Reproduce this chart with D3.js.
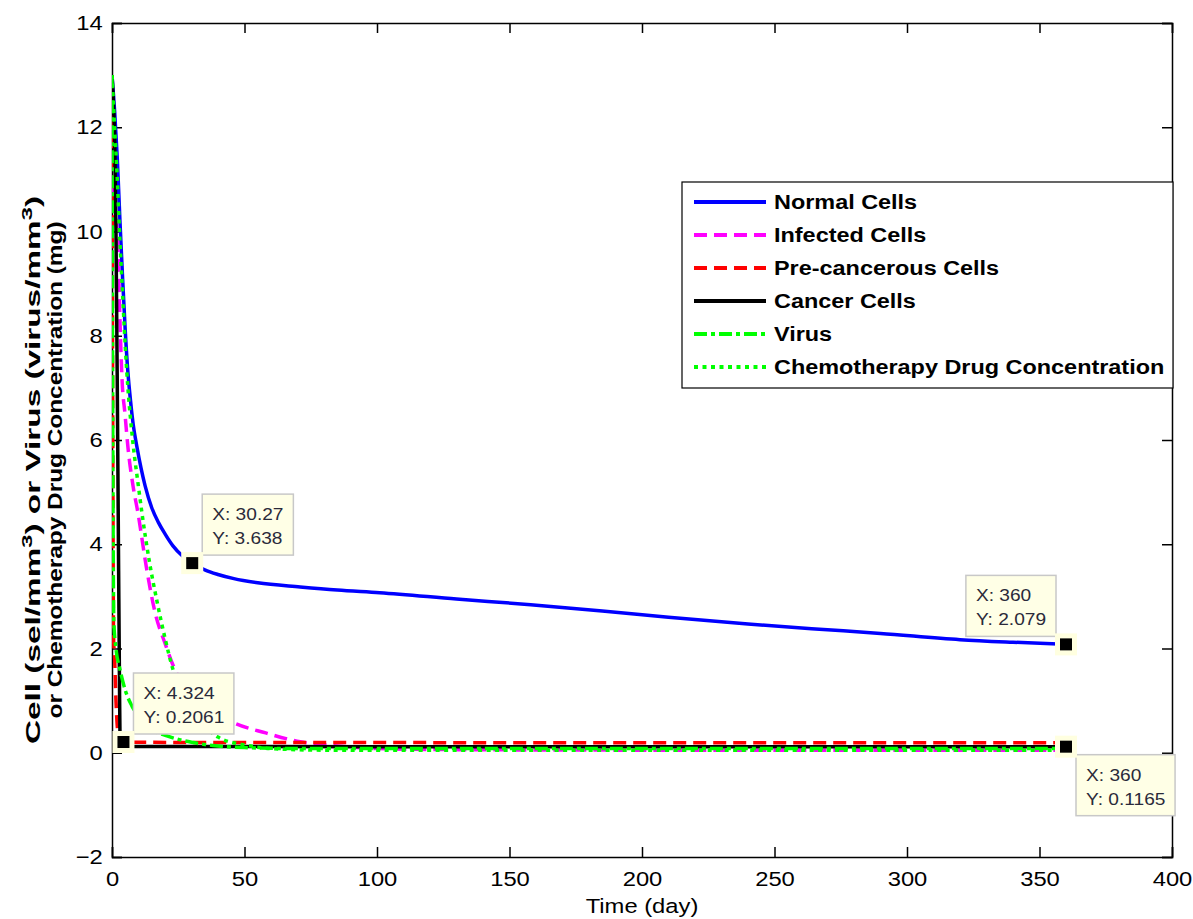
<!DOCTYPE html>
<html><head><meta charset="utf-8">
<script src="https://cdn.jsdelivr.net/npm/d3@7"></script>
<style>body{margin:0;background:#fff}svg{display:block}text{font-family:"Liberation Sans",Arial,sans-serif}</style>
</head><body>
<svg id="c" width="1193" height="919"></svg>
<script>
// ---- data ----
const seriesNames = ["Normal Cells","Infected Cells","Pre-cancerous Cells","Cancer Cells","Virus","Chemotherapy Drug Concentration"];
const normalT = [0,1,2,3,4,5,6,7,8,9.4,11,12.5,15,17.5,20,23,26.5,30.27,35,40,46,55,71,85,101,130,158,185,210,240,264,290,320,340,360];
const normalV = [13,12.3,11.4,10.2,9.1,8.1,7.3,6.75,6.3,5.87,5.45,5.12,4.7,4.42,4.2,3.97,3.78,3.638,3.51,3.42,3.34,3.26,3.18,3.12,3.07,2.95,2.84,2.72,2.6,2.47,2.38,2.29,2.17,2.12,2.079];
const infectedT = [0,1,2.3,3,3.8,4.9,6,8,9.8,13,16.3,20,23.8,30,38,45.7,58,71,85,100,130,200,360];
const infectedV = [11,10.5,9.6,8.3,7.15,6.5,5.87,5.1,4.6,3.55,2.68,2.1,1.59,1.15,0.8,0.58,0.38,0.21,0.13,0.08,0.06,0.05,0.05];
const precancerT = [0,0.3,0.6,1,1.5,2,2.5,3,4.324,6,100,360];
const precancerV = [13,6,2.2,1.8,1.0,0.5,0.28,0.22,0.2061,0.2,0.195,0.19];
const cancerT = [0,0.5,1,1.5,2,2.5,2.8,3,3.5,4.5,6,100,360];
const cancerV = [13,12.5,11.8,10,7,3.5,1.5,0.4,0.25,0.15,0.12,0.117,0.1165];
const virusT = [0,0.3,0.7,1.5,3,5,7.5,10,15,21,30,38,50,70,100,360];
const virusV = [13,6,2.5,2.0,1.6,1.2,0.9,0.7,0.45,0.32,0.2,0.14,0.1,0.08,0.08,0.08];
const chemoT = [0,1,2,3,4,5,6,7,8,10,11.3,14,17,20,23,26,30,35,40,50,60,80,360];
const chemoV = [13,12,11,9.8,8.8,7.8,7.0,6.4,5.9,5.1,4.6,3.7,2.9,2.2,1.6,1.2,0.8,0.5,0.3,0.15,0.08,0.05,0.05];
const xTicks = [0,50,100,150,200,250,300,350,400];
const yTicks = [-2,0,2,4,6,8,10,12,14];
const tipX = [30.27, 4.324, 360, 360];
const tipY = [3.638, 0.2061, 2.079, 0.1165];
const tipXLabel = ["30.27","4.324","360","360"];
const tipYLabel = ["3.638","0.2061","2.079","0.1165"];

// ---- styles ----
const colors = ["#0000ff","#ff00ff","#ff0000","#000000","#00ff00","#00ff00"];
const dashes = [null,"13,7","13,7",null,"13,4,4,4","4,4.5"];
const tipDir = [[1,-1],[1,-1],[-1,-1],[1,1]];
const SX = 1.16; // horizontal glyph stretch seen in the reference

const svg = d3.select("#c");
const x = d3.scaleLinear().domain([0,400]).range([112,1172]);
const y = d3.scaleLinear().domain([-2,14]).range([857,23]);

svg.append("defs").append("clipPath").attr("id","clip")
  .append("rect").attr("x",112).attr("y",23).attr("width",1060).attr("height",834);

function stxt(g, px, py, str, size, weight, anchor){
  return g.append("text").attr("transform",`translate(${px},${py}) scale(${SX},1)`)
    .attr("font-size",size).attr("font-weight",weight||"normal")
    .attr("text-anchor",anchor||"start").text(str);
}

// axes
const gx = svg.append("g").attr("transform","translate(0,857)")
  .call(d3.axisBottom(x).tickValues(xTicks).tickSize(-10).tickPadding(14).tickFormat(d3.format("d")));
const gxt = svg.append("g").attr("transform","translate(0,23)")
  .call(d3.axisTop(x).tickValues(xTicks).tickSize(-10).tickFormat(""));
const gy = svg.append("g").attr("transform","translate(112,0)")
  .call(d3.axisLeft(y).tickValues(yTicks).tickSize(-10).tickPadding(8).tickFormat(d3.format("d")));
const gyr = svg.append("g").attr("transform","translate(1172,0)")
  .call(d3.axisRight(y).tickValues(yTicks).tickSize(-10).tickFormat(""));
[gx,gxt,gy,gyr].forEach(g=>{
  g.selectAll(".domain").attr("stroke","#000").attr("stroke-width",1.5);
  g.selectAll(".tick line").attr("stroke","#000").attr("stroke-width",1.5);
  g.selectAll("text").attr("font-size",20.5).attr("fill","#000")
    .attr("transform",`scale(${SX},1)`)
    .style("font-family","'Liberation Sans',Arial,sans-serif");
});

// lines
const series = [[normalT,normalV],[infectedT,infectedV],[precancerT,precancerV],[cancerT,cancerV],[virusT,virusV],[chemoT,chemoV]];
const line = d3.line().x(d=>x(d[0])).y(d=>y(d[1])).curve(d3.curveMonotoneX);
const lg = svg.append("g").attr("clip-path","url(#clip)");
series.forEach((s,i)=>{
  const pts = s[0].map((t,j)=>[t,s[1][j]]);
  lg.append("path").datum(pts).attr("d",line).attr("fill","none")
    .attr("stroke",colors[i]).attr("stroke-width",3.5)
    .attr("stroke-dasharray",dashes[i]);
});

// data tips
tipX.forEach((tx,i)=>{
  const px = x(tx), py = y(tipY[i]);
  const g = svg.append("g");
  const t1 = "X: "+tipXLabel[i], t2 = "Y: "+tipYLabel[i];
  const tmp = g.append("text").attr("font-size",16).text(t2.length>t1.length?t2:t1);
  const w = tmp.node().getComputedTextLength()*SX+22; tmp.remove();
  const h = 61;
  const bx = tipDir[i][0]>0 ? px+10 : px-10-w;
  const by = tipDir[i][1]>0 ? py+8 : py-8-h;
  g.append("rect").attr("x",bx).attr("y",by).attr("width",w).attr("height",h)
    .attr("fill","#ffffe6").attr("stroke","#c8c8c8").attr("stroke-width",1.5);
  stxt(g,bx+10,by+26,t1,16.5).attr("fill","#2a2a3a");
  stxt(g,bx+10,by+50,t2,16.5).attr("fill","#2a2a3a");
  g.append("rect").attr("x",px-11).attr("y",py-11).attr("width",22).attr("height",22).attr("fill","#ffffe0");
  g.append("rect").attr("x",px-6).attr("y",py-6).attr("width",12).attr("height",12).attr("fill","#000");
});

// legend
const leg = svg.append("g");
leg.append("rect").attr("x",682).attr("y",182).attr("width",491).attr("height",206)
  .attr("fill","#fff").attr("stroke","#000").attr("stroke-width",1.2);
seriesNames.forEach((n,i)=>{
  const yy = 202 + i*33;
  leg.append("line").attr("x1",694).attr("x2",766).attr("y1",yy).attr("y2",yy)
    .attr("stroke",colors[i]).attr("stroke-width",4).attr("stroke-dasharray",dashes[i]);
  stxt(leg,774,yy+7,n,20.2,"bold");
});

// axis labels
stxt(svg,642,913,"Time (day)",20.5,"normal","middle");
const yl = svg.append("text").attr("transform","translate(40,470) rotate(-90)").attr("text-anchor","middle")
  .attr("font-size",21).attr("font-weight","bold");
yl.append("tspan").text("Cell (sel/mm");
yl.append("tspan").attr("dy",-8).attr("font-size",15).text("3");
yl.append("tspan").attr("dy",8).text(") or Virus (virus/mm");
yl.append("tspan").attr("dy",-8).attr("font-size",15).text("3");
yl.append("tspan").attr("dy",8).text(")");
const yl2 = svg.append("text").attr("transform","translate(62,470) rotate(-90)").attr("text-anchor","middle")
  .attr("font-size",21).attr("font-weight","bold").text("or Chemotherapy Drug Concentration (mg)");
yl.attr("textLength",548).attr("lengthAdjust","spacingAndGlyphs");
yl2.attr("textLength",497).attr("lengthAdjust","spacingAndGlyphs");
</script>
</body></html>
